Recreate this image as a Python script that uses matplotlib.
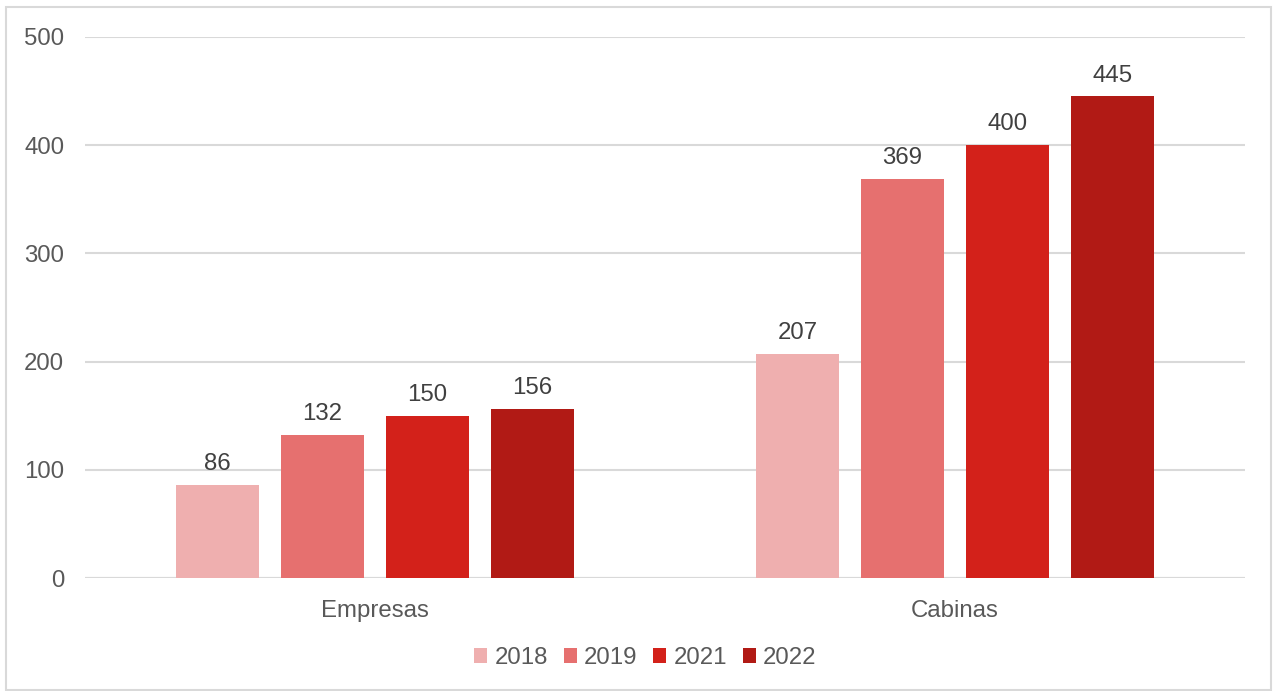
import matplotlib
matplotlib.use("Agg")
import matplotlib.pyplot as plt
import numpy as np
from matplotlib.patches import Rectangle

categories = ["Empresas", "Cabinas"]
years = ["2018", "2019", "2021", "2022"]
values = {
    "2018": [86, 207],
    "2019": [132, 369],
    "2021": [150, 400],
    "2022": [156, 445],
}
colors = ["#EFAFAF", "#E6706F", "#D3211A", "#B11A15"]

plt.rcParams['font.family'] = ['Liberation Sans', 'DejaVu Sans']
FS = 17.3

fig = plt.figure(figsize=(12.73, 6.91), dpi=100)
ax = fig.add_axes([0.0668, 0.1635, 0.978 - 0.0668, 0.9465 - 0.1635])

x = np.arange(len(categories))
width = 0.143
step = 0.181
offsets = (np.arange(len(years)) - 1.5) * step
for i, y in enumerate(years):
    bars = ax.bar(x + offsets[i], values[y], width, color=colors[i], label=y, zorder=3)
    for b, v in zip(bars, values[y]):
        ax.text(b.get_x() + b.get_width() / 2, v + 9, str(v), ha='center', va='bottom',
                fontsize=FS, color='#404040')

ax.set_xlim(-0.5, 1.5)
ax.set_ylim(0, 500)
ax.set_yticks([0, 100, 200, 300, 400, 500])
ax.yaxis.grid(True, color='#D9D9D9', linewidth=1.5, zorder=0)
ax.set_axisbelow(True)
for s in ax.spines.values():
    s.set_visible(False)
ax.axhline(0, color='#D9D9D9', linewidth=1.5, zorder=2)
ax.tick_params(axis='both', length=0, labelsize=FS, labelcolor='#595959')
ax.tick_params(axis='y', pad=15)
ax.tick_params(axis='x', pad=15.5)
ax.set_xticks(x)
ax.set_xticklabels(categories)

leg = fig.legend(loc='center', bbox_to_anchor=(0.507, 0.048), ncol=4, frameon=False,
                 fontsize=FS, handlelength=0.55, handleheight=0.55, handletextpad=0.3,
                 columnspacing=0.65)
for t in leg.get_texts():
    t.set_color('#595959')

fig.patches.append(Rectangle((6 / 1273, 1 / 691), 1 - 8 / 1273, 1 - 8 / 691,
                             transform=fig.transFigure, fill=False,
                             edgecolor='#D9D9D9', linewidth=1.5))

fig.savefig("out.png", dpi=100, facecolor='white')
